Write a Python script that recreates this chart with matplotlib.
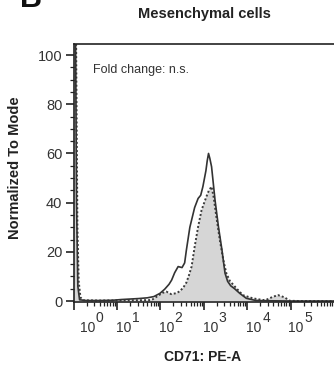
import numpy as np
import matplotlib
matplotlib.use("Agg")
import matplotlib.pyplot as plt
from matplotlib.ticker import FixedLocator, LogLocator, NullFormatter, MultipleLocator
import matplotlib.transforms as mtransforms

plt.rcParams['font.family'] = ['Liberation Sans', 'DejaVu Sans']

# histogram traces, x in log10 decades, y in % of mode
solid_log = [0.0, 0.04, 0.07, 0.10, 0.14, 0.3, 0.6, 0.9, 1.1, 1.3, 1.5, 1.7, 1.85,
             1.99, 2.1, 2.2, 2.26, 2.33, 2.41, 2.5, 2.56, 2.60, 2.68, 2.79, 2.87,
             2.93, 2.98, 3.05, 3.08, 3.11, 3.14, 3.18, 3.26, 3.34, 3.42, 3.49, 3.55,
             3.62, 3.71, 3.83, 3.98, 4.2, 4.5, 5.0, 5.5, 6.0]
solid_y = [160, 130, 40, 6, 0.5, 0.2, 0.2, 0.3, 0.6, 0.8, 1.0, 1.3, 1.8,
           3.1, 4.8, 6.8, 8.5, 11.5, 14.0, 13.6, 15.5, 20.7, 30.0, 38.0, 41.7,
           43.0, 46.5, 53.0, 57.0, 60.0, 58.0, 54.6, 41.0, 30.0, 20.7, 11.3, 8.0,
           6.2, 5.0, 3.1, 1.1, 0.2, 0.1, 0.0, 0.0, 0.0]

dotted_log = [0.0, 0.05, 0.09, 0.12, 0.16, 0.22, 0.6, 1.2, 1.5, 1.8, 1.97, 2.05,
              2.14, 2.25, 2.37, 2.45, 2.53, 2.60, 2.66, 2.72, 2.79, 2.87, 2.95,
              3.06, 3.12, 3.18, 3.23, 3.29, 3.37, 3.45, 3.52, 3.60, 3.75, 3.90,
              4.13, 4.36, 4.44, 4.59, 4.71, 4.86, 4.98, 5.2, 6.0]
dotted_y = [160, 130, 30, 8, 1.5, 0.3, 0.2, 0.3, 0.3, 0.4, 2.4, 3.3,
            3.8, 2.8, 3.2, 4.0, 5.5, 7.5, 10.5, 14.0, 22.0, 30.2, 37.0,
            42.4, 45.0, 46.5, 42.0, 34.3, 24.8, 16.7, 11.3, 8.2, 5.2, 2.4,
            1.1, 0.4, 0.5, 1.7, 2.4, 1.5, 0.1, 0.0, 0.0]

decades = [0, 1, 2, 3, 4, 5]
yticks = [0, 20, 40, 60, 80, 100]

solid_x = np.power(10.0, solid_log)
dotted_x = np.power(10.0, dotted_log)

fig = plt.figure(figsize=(3.34, 3.71), dpi=100)
ax = fig.add_axes([73.5 / 334, 69 / 371, 260.5 / 334, 258 / 371])

ax.fill_between(dotted_x, dotted_y, 0, color='#d6d6d6', lw=0)
ax.plot(dotted_x, dotted_y, color='#3a3a3a', lw=1.4, ls=(0, (1, 1.1)))
ax.plot(solid_x, solid_y, color='#333333', lw=1.2)

ax.set_xscale('log')
ax.set_xlim(1, 1e6)
ax.set_ylim(-0.4, 104.5)

ax.spines['right'].set_visible(False)
for s in ['left', 'bottom', 'top']:
    ax.spines[s].set_linewidth(1.2)
    ax.spines[s].set_color('#222222')

ax.xaxis.set_major_locator(FixedLocator([10.0 ** d for d in decades]))
ax.xaxis.set_minor_locator(LogLocator(base=10, subs=np.arange(2, 10), numticks=20))
ax.xaxis.set_major_formatter(NullFormatter())
ax.xaxis.set_minor_formatter(NullFormatter())
ax.set_yticks(yticks)
ax.yaxis.set_minor_locator(MultipleLocator(5))
ax.tick_params(axis='both', which='major', length=6, width=1.2, color='#222222',
               labelsize=10.5, labelcolor='#333333')
ax.tick_params(axis='both', which='minor', length=3, width=0.9, color='#222222')
ax.tick_params(axis='y', pad=2)

# decade labels: "10" with a big exponent, as in the FlowJo export
base_off = [14, 7, 6, 6.5, 7, 5.5]
for d, off in zip(decades, base_off):
    tr = ax.get_xaxis_transform() + mtransforms.ScaledTranslation(off / 100, -26 / 100, fig.dpi_scale_trans)
    ax.text(10.0 ** d, 0, '10', transform=tr, ha='center', va='center', fontsize=10, color='#333333')
    tr2 = ax.get_xaxis_transform() + mtransforms.ScaledTranslation((off + 12) / 100, -16 / 100, fig.dpi_scale_trans)
    ax.text(10.0 ** d, 0, str(d), transform=tr2, ha='center', va='center', fontsize=10, color='#333333')

ax.text(93 / 334, 1 - 70 / 371, 'Fold change: n.s.', transform=fig.transFigure,
        ha='left', va='center', fontsize=9, color='#333333')

fig.text(204 / 334, 1 - 14 / 371, 'Mesenchymal cells', ha='center', va='center',
         fontsize=10.5, fontweight='bold', color='#222222')
fig.text(203 / 334, 1 - 357 / 371, 'CD71: PE-A', ha='center', va='center',
         fontsize=10, fontweight='bold', color='#222222')
fig.text(15 / 334, 1 - 168 / 371, 'Normalized To Mode', ha='center', va='center',
         rotation=90, fontsize=10.5, fontweight='bold', color='#222222')
fig.text(20 / 334, 1 - 7 / 371, 'B', ha='left', va='baseline',
         fontsize=22, fontweight='bold', color='#111111')

fig.savefig('out.png', dpi=100)
